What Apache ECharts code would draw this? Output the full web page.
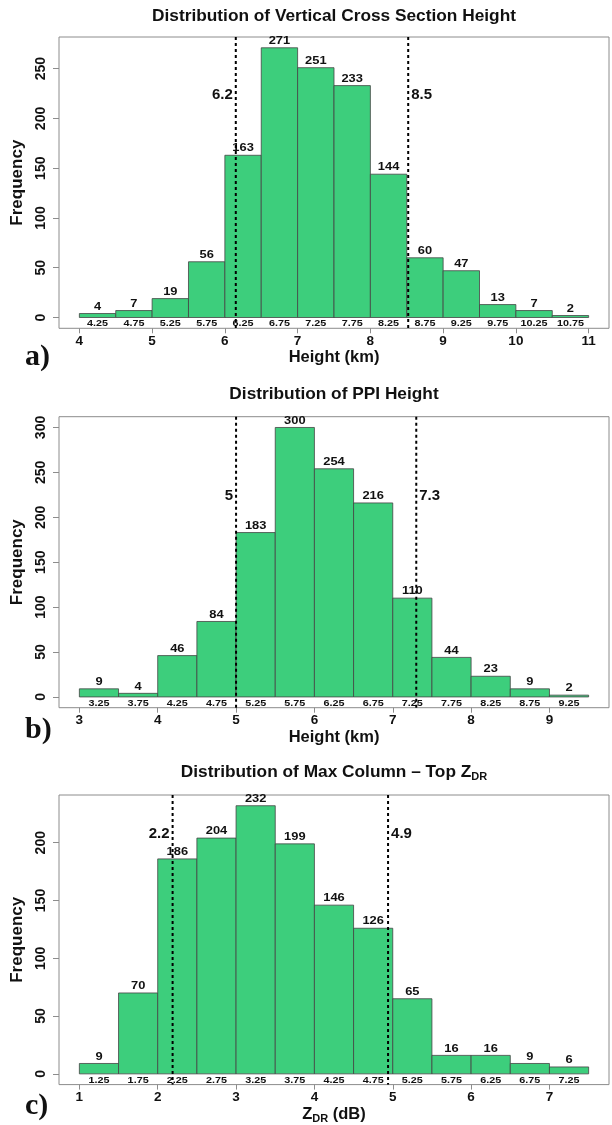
<!DOCTYPE html>
<html><head><meta charset="utf-8">
<script src="https://cdn.jsdelivr.net/npm/echarts@6/dist/echarts.min.js"></script>
<style>html,body{margin:0;padding:0;background:#fff}#c{width:612px;height:1125px}</style>
</head><body><div id="c"></div>
<script>
// ---------- data ----------
const binWidth = 0.5;

const titleA = 'Distribution of Vertical Cross Section Height';
const binCentersA = [4.25, 4.75, 5.25, 5.75, 6.25, 6.75, 7.25, 7.75, 8.25, 8.75, 9.25, 9.75, 10.25, 10.75];
const countsA = [4, 7, 19, 56, 163, 271, 251, 233, 144, 60, 47, 13, 7, 2];
const xTicksA = [4, 5, 6, 7, 8, 9, 10, 11];
const yTicksA = [0, 50, 100, 150, 200, 250];
const refValuesA = [6.15, 8.52];
const refLabelsA = ['6.2', '8.5'];

const titleB = 'Distribution of PPI Height';
const binCentersB = [3.25, 3.75, 4.25, 4.75, 5.25, 5.75, 6.25, 6.75, 7.25, 7.75, 8.25, 8.75, 9.25];
const countsB = [9, 4, 46, 84, 183, 300, 254, 216, 110, 44, 23, 9, 2];
const xTicksB = [3, 4, 5, 6, 7, 8, 9];
const yTicksB = [0, 50, 100, 150, 200, 250, 300];
const refValuesB = [5.0, 7.3];
const refLabelsB = ['5', '7.3'];

const titleC = 'Distribution of Max Column \u2013 Top Z{sub|DR}';
const binCentersC = [1.25, 1.75, 2.25, 2.75, 3.25, 3.75, 4.25, 4.75, 5.25, 5.75, 6.25, 6.75, 7.25];
const countsC = [9, 70, 186, 204, 232, 199, 146, 126, 65, 16, 16, 9, 6];
const xTicksC = [1, 2, 3, 4, 5, 6, 7];
const yTicksC = [0, 50, 100, 150, 200];
const refValuesC = [2.19, 4.94];
const refLabelsC = ['2.2', '4.9'];

const xNameA = 'Height (km)';
const xNameB = 'Height (km)';
const xNameC = 'Z{sub|DR} (dB)';
const yName = 'Frequency';
const panelLetters = ['a)', 'b)', 'c)'];

// ---------- style / layout ----------
const FONT = '"Liberation Sans", Arial, sans-serif';
const SERIF = '"Liberation Serif", "Times New Roman", serif';
const GREEN = '#3dce7c';
const BOX = { left: 59, right: 609 };

const panels = [
  { title: titleA, centers: binCentersA, counts: countsA, xTicks: xTicksA, yTicks: yTicksA,
    refs: refValuesA, refLabels: refLabelsA, xName: xNameA,
    top: 37, bottom: 328.3, titleY: 16, refLabelY: 224, letterY: 357, nameGap: 17 },
  { title: titleB, centers: binCentersB, counts: countsB, xTicks: xTicksB, yTicks: yTicksB,
    refs: refValuesB, refLabels: refLabelsB, xName: xNameB,
    top: 416.7, bottom: 707.7, titleY: 394, refLabelY: 224, letterY: 730, nameGap: 16 },
  { title: titleC, centers: binCentersC, counts: countsC, xTicks: xTicksC, yTicks: yTicksC,
    refs: refValuesC, refLabels: refLabelsC, xName: xNameC,
    top: 795, bottom: 1085, titleY: 772, refLabelY: 208, letterY: 1106, nameGap: 17 }
];

const subRich = {
  sub: { fontSize: 11, fontWeight: 'bold', fontFamily: FONT, color: '#111', padding: [9, 0, 0, 0], verticalAlign: 'top' }
};

const grids = [], xAxes = [], yAxes = [], series = [], graphics = [];

panels.forEach((p, i) => {
  const lo = p.centers[0] - binWidth / 2;
  const hi = p.centers[p.centers.length - 1] + binWidth / 2;
  const xpad = 0.04 * (hi - lo);
  const ymax = Math.max.apply(null, p.counts);
  const ypad = 0.04 * ymax;

  grids.push({ left: BOX.left, width: BOX.right - BOX.left, top: p.top, height: p.bottom - p.top,
    show: true, borderColor: '#8c8c8c', borderWidth: 1, backgroundColor: 'transparent', containLabel: false });

  xAxes.push({
    type: 'value', gridIndex: i, min: lo - xpad, max: hi + xpad,
    splitLine: { show: false },
    axisLine: { show: false, onZero: false },
    axisTick: { show: true, customValues: p.xTicks, length: 5, lineStyle: { color: '#8c8c8c' } },
    axisLabel: { customValues: p.xTicks, margin: 6, color: '#111', fontWeight: 'bold', fontSize: 13.5, fontFamily: FONT },
    name: p.xName, nameLocation: 'middle', nameGap: p.nameGap,
    nameTextStyle: { color: '#111', fontWeight: 'bold', fontSize: 16.5, fontFamily: FONT, rich: subRich }
  });

  yAxes.push({
    type: 'value', gridIndex: i, min: -ypad, max: ymax + ypad,
    splitLine: { show: false },
    axisLine: { show: false, onZero: false },
    axisTick: { show: true, customValues: p.yTicks, length: 6, lineStyle: { color: '#8c8c8c' } },
    axisLabel: { customValues: p.yTicks, rotate: 90, margin: 11, color: '#111', fontWeight: 'bold', fontSize: 14, fontFamily: FONT },
    name: yName, nameLocation: 'middle', nameGap: 31,
    nameTextStyle: { color: '#111', fontWeight: 'bold', fontSize: 17, fontFamily: FONT }
  });

  series.push({
    type: 'custom', xAxisIndex: i, yAxisIndex: i, clip: false,
    data: p.centers.map((c, k) => [c, p.counts[k]]),
    renderItem: function (params, api) {
      const c = api.value(0), n = api.value(1);
      const tl = api.coord([c - binWidth / 2, n]);
      const br = api.coord([c + binWidth / 2, 0]);
      const cx = (tl[0] + br[0]) / 2;
      return { type: 'group', children: [
        { type: 'rect', shape: { x: tl[0], y: tl[1], width: br[0] - tl[0], height: br[1] - tl[1] },
          style: { fill: GREEN, stroke: '#444', lineWidth: 0.8 } },
        { type: 'text', x: cx, y: tl[1] - 1, scaleX: 1.12, z2: 5,
          style: { text: String(n), x: 0, y: 0, fill: '#111', font: 'bold 11.5px ' + FONT,
            align: 'center', verticalAlign: 'bottom', textAlign: 'center', textVerticalAlign: 'bottom' } },
        { type: 'text', x: cx, y: br[1] + 6.5, scaleX: 1.2, z2: 5,
          style: { text: c.toFixed(2), x: 0, y: 0, fill: '#111', font: 'bold 9px ' + FONT,
            align: 'center', verticalAlign: 'middle', textAlign: 'center', textVerticalAlign: 'middle' } }
      ] };
    }
  });

  series.push({
    type: 'custom', xAxisIndex: i, yAxisIndex: i, clip: false, z: 10,
    data: p.refs.map((v, k) => [v, k]),
    renderItem: function (params, api) {
      const v = api.value(0), k = api.value(1);
      const cs = params.coordSys;
      const x = api.coord([v, 0])[0];
      const ly = api.coord([v, p.refLabelY])[1];
      const left = k === 0;
      return { type: 'group', children: [
        { type: 'line', shape: { x1: x, y1: cs.y, x2: x, y2: cs.y + cs.height },
          style: { stroke: '#000', lineWidth: 2, lineDash: [3, 3] } },
        { type: 'text', x: left ? x - 3 : x + 3, y: ly,
          style: { text: p.refLabels[k], x: 0, y: 0, fill: '#111', font: 'bold 15px ' + FONT,
            align: left ? 'right' : 'left', verticalAlign: 'middle',
            textAlign: left ? 'right' : 'left', textVerticalAlign: 'middle' } }
      ] };
    }
  });

  graphics.push({ type: 'text', x: (BOX.left + BOX.right) / 2, y: p.titleY,
    style: { text: p.title, fill: '#111', font: 'bold 17.3px ' + FONT, rich: { sub: { fontSize: 11, fontWeight: 'bold', fontFamily: FONT, fill: '#111', padding: [9, 0, 0, 0], verticalAlign: 'top' } },
      align: 'center', verticalAlign: 'middle', textAlign: 'center', textVerticalAlign: 'middle' } });
  graphics.push({ type: 'text', x: 25, y: p.letterY,
    style: { text: panelLetters[i], fill: '#111', font: 'bold 30px ' + SERIF,
      align: 'left', verticalAlign: 'middle', textAlign: 'left', textVerticalAlign: 'middle' } });
});

const chart = echarts.init(document.getElementById('c'), null, { renderer: 'canvas' });
chart.setOption({
  animation: false,
  backgroundColor: '#ffffff',
  grid: grids, xAxis: xAxes, yAxis: yAxes, series: series, graphic: graphics
});
</script>
</body></html>
